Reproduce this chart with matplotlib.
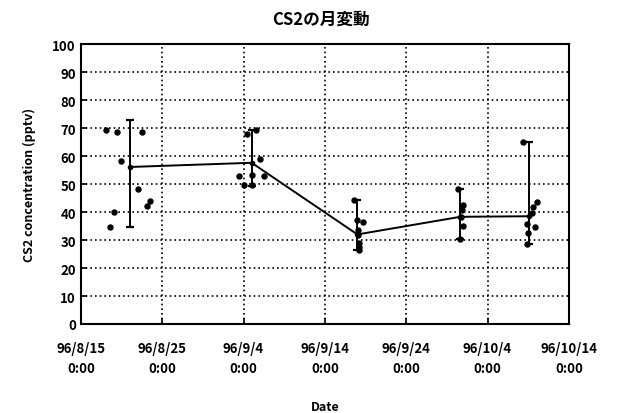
import numpy as np
import pandas as pd
import matplotlib.pyplot as plt
import matplotlib.dates as mdates

plt.rcParams['font.family'] = ['Noto Sans CJK JP', 'DejaVu Sans']

# individual samples
sample_time = [
    "1996-08-18 02:00", "1996-08-18 14:00", "1996-08-19 01:00", "1996-08-19 12:00",
    "1996-08-20 00:00", "1996-08-22 01:00", "1996-08-22 13:00", "1996-08-23 02:00",
    "1996-08-23 12:00",
    "1996-09-03 10:00", "1996-09-04 02:00", "1996-09-04 09:00", "1996-09-05 00:00",
    "1996-09-05 01:00", "1996-09-05 12:00", "1996-09-06 00:00", "1996-09-06 13:00",
    "1996-09-17 14:00", "1996-09-17 23:00", "1996-09-18 16:00", "1996-09-18 03:00",
    "1996-09-18 01:00", "1996-09-18 06:00", "1996-09-18 05:00", "1996-09-18 04:00",
    "1996-09-30 08:00", "1996-10-01 00:00", "1996-09-30 20:00", "1996-09-30 17:00",
    "1996-10-01 00:00", "1996-09-30 16:00",
    "1996-10-08 08:00", "1996-10-10 01:00", "1996-10-09 15:00", "1996-10-09 10:00",
    "1996-10-08 21:00", "1996-10-09 20:00", "1996-10-09 00:00", "1996-10-08 21:00",
]
sample_cs2 = [
    69.2, 34.7, 40.1, 68.6, 58.1, 48.1, 68.6, 42.2, 43.9,
    52.8, 49.6, 67.8, 53.1, 49.6, 69.4, 58.9, 52.8,
    44.2, 37.3, 36.5, 33.5, 31.7, 29.0, 27.6, 26.4,
    48.4, 42.4, 40.9, 38.3, 34.9, 30.5,
    65.0, 43.6, 41.8, 39.7, 35.9, 34.5, 32.6, 28.7,
]

# campaign means and ranges
mean_time = ["1996-08-21 00:00", "1996-09-05 00:00", "1996-09-18 00:00",
             "1996-09-30 16:00", "1996-10-09 03:00"]
mean_cs2 = [56.1, 57.6, 32.0, 38.3, 38.5]
min_cs2 = [34.7, 49.2, 26.4, 30.5, 28.7]
max_cs2 = [72.8, 69.4, 44.2, 48.4, 65.0]

tick_dates = ["1996-08-15", "1996-08-25", "1996-09-04", "1996-09-14",
              "1996-09-24", "1996-10-04", "1996-10-14"]
tick_labels = ["96/8/15\n0:00", "96/8/25\n0:00", "96/9/4\n0:00", "96/9/14\n0:00",
               "96/9/24\n0:00", "96/10/4\n0:00", "96/10/14\n0:00"]

st = pd.to_datetime(sample_time)
mt = pd.to_datetime(mean_time)
mean_arr = np.array(mean_cs2)
yerr = [mean_arr - np.array(min_cs2), np.array(max_cs2) - mean_arr]

fig = plt.figure(figsize=(6.17, 4.14), dpi=100)
ax = fig.add_axes([0.131, 0.215, 0.791, 0.676])

ax.errorbar(mt, mean_cs2, yerr=yerr, color='black', lw=1.4, capsize=3,
            capthick=1.6, marker='o', ms=3, zorder=3)
ax.plot(st, sample_cs2, 'o', color='black', ms=3.6, zorder=4)

ax.set_xlim(pd.Timestamp("1996-08-15"), pd.Timestamp("1996-10-14"))
ax.set_ylim(0, 100)
ax.set_yticks(range(0, 101, 10))
ax.set_xticks(pd.to_datetime(tick_dates))
ax.set_xticklabels(tick_labels, linespacing=1.6)

ax.grid(True, color='black', linestyle=(0, (1, 1.8)), linewidth=1.2)
ax.set_axisbelow(True)
for s in ax.spines.values():
    s.set_linewidth(1.5)
ax.tick_params(axis='both', direction='in', length=4, width=1.2, labelsize=9.5)
ax.tick_params(axis='x', pad=12)
for lbl in ax.get_xticklabels() + ax.get_yticklabels():
    lbl.set_fontweight('bold')

ax.set_ylabel("CS2 concentration (pptv)", fontsize=9, fontweight='bold', labelpad=12)
ax.set_xlabel("Date", fontsize=9, fontweight='bold', labelpad=18)
fig.suptitle("CS2の月変動", x=0.52, y=0.975, fontsize=12, fontweight='bold')

fig.savefig("out.png", dpi=100)
